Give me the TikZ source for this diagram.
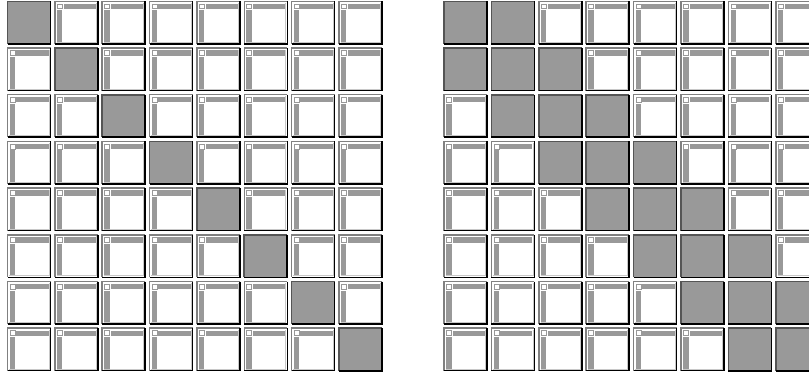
\documentclass[tikz,border=0pt]{standalone}
\definecolor{cellgray}{HTML}{999999}
\definecolor{edgegray}{HTML}{808080}
\definecolor{darkedge}{HTML}{555555}
\definecolor{inneredge}{HTML}{C8C8C8}
\tikzset{
  whitecell/.pic={
    \fill[white] (0,0) rectangle (43,42.5);
    \fill[cellgray] (8.8,2.3) rectangle (41,7.7);
    \fill[cellgray] (2.2,9) rectangle (7.5,40.5);
    \draw[cellgray,line width=0.9] (2.6,2.7) rectangle (7.6,7.6);
    \draw[inneredge,line width=0.8] (1.8,41) -- (41.5,41) -- (41.5,1.5);
    \draw[edgegray,line width=1.5] (0,42.5) -- (0,0) -- (43,0);
    \draw[black,line width=1.5] (43,0) -- (43,42.5) -- (0,42.5);
  },
  graycell/.pic={
    \fill[cellgray] (0,0) rectangle (43,42.5);
    \draw[darkedge,line width=1.6] (0,42.5) -- (0,0) -- (43,0);
    \draw[black,line width=1.6] (43,0) -- (43,42.5) -- (0,42.5);
  }
}
\begin{document}
\begin{tikzpicture}[x=1bp,y=-1bp]
  \useasboundingbox (0,0) rectangle (809,372);
  \clip (0,0) rectangle (809,372);
  % left grid: diagonal
  \foreach \i in {0,...,7} {
    \foreach \j in {0,...,7} {
      \pgfmathsetmacro\L{7.5+47.35*\j}
      \pgfmathsetmacro\T{1.3+46.7*\i}
      \ifnum\i=\j
        \pic at (\L,\T) {graycell};
      \else
        \pic at (\L,\T) {whitecell};
      \fi
    }
  }
  % right grid: band
  \foreach \i in {0,...,7} {
    \foreach \j in {0,...,7} {
      \pgfmathsetmacro\L{444+47.4*\j}
      \pgfmathsetmacro\T{1.3+46.7*\i}
      \pgfmathtruncatemacro\d{abs(\i-\j)}
      \ifnum\d<2
        \pic at (\L,\T) {graycell};
      \else
        \pic at (\L,\T) {whitecell};
      \fi
    }
  }
\end{tikzpicture}
\end{document}
